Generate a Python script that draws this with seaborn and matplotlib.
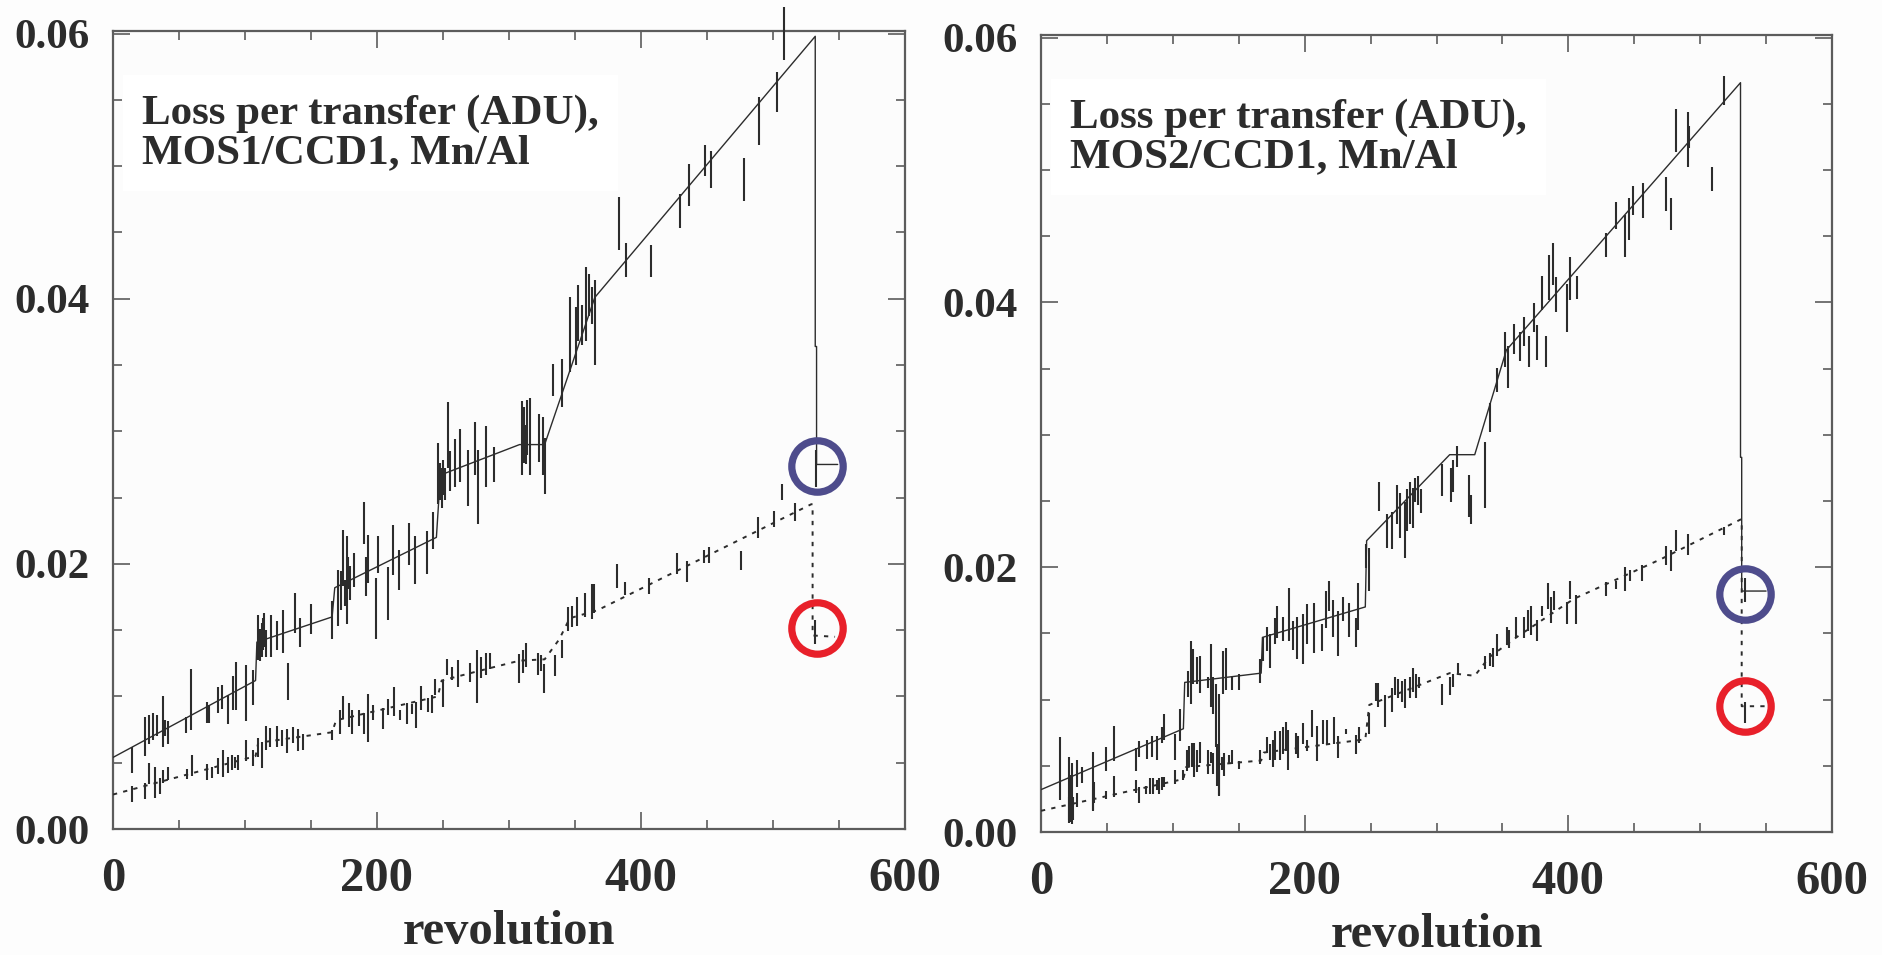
import matplotlib
matplotlib.use("Agg")
import matplotlib.pyplot as plt
import seaborn as sns
from matplotlib.ticker import MultipleLocator, FormatStrFormatter

sns.set_theme(style="ticks")
plt.rcParams["font.family"] = ["Liberation Serif", "DejaVu Serif"]
plt.rcParams["font.weight"] = "bold"

# ---------------- data: panel 1 (MOS1/CCD1) ----------------
title1 = "Loss per transfer (ADU),\nMOS1/CCD1, Mn/Al"
m1_up_rev = [0, 108, 109, 166, 168, 245, 248, 308, 327, 365, 532, 532, 533, 533, 549]
m1_up_val = [0.0054, 0.0112, 0.0141, 0.0160, 0.0182, 0.0220, 0.0267, 0.0290, 0.0290,
             0.0401, 0.0598, 0.0364, 0.0364, 0.0275, 0.0275]
m1_lo_rev = [0, 108, 110, 166, 169, 246, 249, 288, 308, 327, 338, 346, 367, 529, 530, 530, 547]
m1_lo_val = [0.0026, 0.0055, 0.0065, 0.0073, 0.0082, 0.0100, 0.0112, 0.0122, 0.0127, 0.0128,
             0.0143, 0.0159, 0.0165, 0.0245, 0.0245, 0.0146, 0.0145]

d1_up_rev = [14.1, 24.2, 27.5, 30.6, 33.1, 37.6, 39.4, 41.9, 55.3, 58.8, 71.0, 72.5, 79.8, 82.3,
             87.4, 90.7, 93.2, 100.8, 105.8, 110.1, 111.3, 112.6, 113.5, 114.4, 116.0, 119.4,
             124.0, 129.0, 132.3, 137.9, 141.7, 149.7, 165.7, 170.7, 172.5, 174.5, 175.8, 177.5,
             178.4, 179.5, 182.8, 190.2, 191.7, 193.4, 199.2, 201.0, 208.6, 212.4, 216.9, 224.2,
             228.8, 237.6, 242.2, 246.5, 247.6, 249.0, 250.3, 251.5, 253.8, 255.5, 259.2, 262.9,
             268.8, 274.3, 276.5, 282.5, 288.9, 309.8, 311.6, 312.7, 313.9, 316.2, 323.0, 325.8,
             327.6, 333.5, 340.3, 346.3, 350.8, 352.6, 355.0, 358.6, 360.8, 362.7, 365.4, 383.6,
             389.0, 407.3, 429.2, 436.0, 448.3, 453.3, 478.0, 489.3, 503.4, 508.0, 532.5]
d1_up_val = [0.00521, 0.00697, 0.00753, 0.00772, 0.00779, 0.00810, 0.00760, 0.00728, 0.00785,
             0.00980, 0.00879, 0.00867, 0.00974, 0.00999, 0.00904, 0.01024, 0.01081, 0.01024,
             0.01068, 0.01445, 0.01390, 0.01426, 0.01470, 0.01502, 0.01400, 0.01458, 0.01458,
             0.01489, 0.01112, 0.01628, 0.01483, 0.01584, 0.01577, 0.01741, 0.01800, 0.02043,
             0.01779, 0.01879, 0.01930, 0.01854, 0.01955, 0.02307, 0.01904, 0.02036, 0.01665,
             0.02074, 0.01779, 0.02106, 0.01955, 0.02150, 0.02030, 0.02087, 0.02250, 0.02684,
             0.02620, 0.02571, 0.02650, 0.02603, 0.02970, 0.02700, 0.02763, 0.02820, 0.02648,
             0.02867, 0.02579, 0.02809, 0.02751, 0.02947, 0.02970, 0.02900, 0.03028, 0.02959,
             0.02947, 0.02890, 0.02740, 0.03385, 0.03362, 0.03730, 0.03719, 0.03891, 0.03800,
             0.03960, 0.04030, 0.03950, 0.03822, 0.04570, 0.04294, 0.04283, 0.04663, 0.04858,
             0.05043, 0.04973, 0.04900, 0.05342, 0.05560, 0.05998, 0.02720]
d1_up_err = [0.0010, 0.0015, 0.0011, 0.0010, 0.0008, 0.0019, 0.0006, 0.0009, 0.0006, 0.0023,
             0.0008, 0.0007, 0.0010, 0.0009, 0.0011, 0.0013, 0.0018, 0.0021, 0.0013, 0.0017,
             0.0012, 0.0013, 0.0012, 0.0013, 0.0010, 0.0016, 0.0011, 0.0016, 0.0014, 0.0015,
             0.0011, 0.0011, 0.0014, 0.0021, 0.0015, 0.0021, 0.0010, 0.0033, 0.0012, 0.0013,
             0.0013, 0.0016, 0.0015, 0.0018, 0.0023, 0.0014, 0.0020, 0.0019, 0.0015, 0.0016,
             0.0018, 0.0016, 0.0014, 0.0023, 0.0014, 0.0015, 0.0013, 0.0012, 0.0025, 0.0015,
             0.0018, 0.0020, 0.0021, 0.0020, 0.0028, 0.0023, 0.0013, 0.0028, 0.0021, 0.0015,
             0.0021, 0.0029, 0.0018, 0.0022, 0.0021, 0.0012, 0.0018, 0.0028, 0.0022, 0.0021,
             0.0015, 0.0028, 0.0016, 0.0014, 0.0032, 0.0020, 0.0013, 0.0012, 0.0013, 0.0016,
             0.0012, 0.0014, 0.0016, 0.0018, 0.0015, 0.0020, 0.0014]

d1_lo_rev = [14.1, 24.2, 27.5, 31.8, 35.6, 38.1, 41.9, 55.8, 59.6, 71.5, 74.7, 79.8, 83.6, 87.4,
             89.9, 92.4, 94.9, 100.8, 106.3, 110.1, 112.6, 115.9, 118.9, 124.0, 127.8, 131.6,
             136.1, 140.4, 143.7, 165.7, 172.0, 174.5, 179.0, 180.8, 186.6, 190.2, 193.4, 197.2,
             204.8, 208.6, 212.9, 217.4, 222.5, 226.3, 229.5, 233.1, 238.9, 241.4, 243.9, 250.3,
             252.8, 256.6, 261.6, 270.4, 276.0, 278.5, 282.6, 285.6, 307.8, 310.3, 312.9, 321.7,
             324.0, 326.5, 334.8, 339.9, 345.0, 347.5, 351.3, 357.6, 362.6, 364.6, 382.1, 388.0,
             406.3, 427.6, 434.6, 447.4, 451.7, 475.6, 488.3, 500.9, 506.7, 516.3, 532.0]
d1_lo_val = [0.00263, 0.00288, 0.00420, 0.00351, 0.00326, 0.00395, 0.00420, 0.00414, 0.00477,
             0.00433, 0.00426, 0.00477, 0.00496, 0.00483, 0.00502, 0.00502, 0.00502, 0.00590,
             0.00533, 0.00615, 0.00558, 0.00684, 0.00691, 0.00697, 0.00684, 0.00665, 0.00709,
             0.00672, 0.00659, 0.00709, 0.00810, 0.00917, 0.00860, 0.00810, 0.00835, 0.00797,
             0.00835, 0.00879, 0.00835, 0.00923, 0.00961, 0.00860, 0.00873, 0.00904, 0.00860,
             0.00986, 0.00936, 0.00942, 0.01074, 0.01024, 0.01219, 0.01175, 0.01175, 0.01182,
             0.01151, 0.01219, 0.01245, 0.01264, 0.01213, 0.01264, 0.01314, 0.01245, 0.01250,
             0.01138, 0.01232, 0.01358, 0.01585, 0.01604, 0.01642, 0.01692, 0.01717, 0.01742,
             0.01911, 0.01817, 0.01836, 0.02005, 0.01943, 0.02056, 0.02069, 0.02025, 0.02276,
             0.02338, 0.02540, 0.02390, 0.01489]
d1_lo_err = [0.0006, 0.0006, 0.0008, 0.0012, 0.0006, 0.0005, 0.0005, 0.0004, 0.0008, 0.0006,
             0.0004, 0.0006, 0.0010, 0.0006, 0.0006, 0.0004, 0.0006, 0.0008, 0.0006, 0.0007,
             0.0010, 0.0009, 0.0007, 0.0008, 0.0006, 0.0009, 0.0006, 0.0008, 0.0006, 0.0004,
             0.0009, 0.0009, 0.0009, 0.0009, 0.0006, 0.0008, 0.0018, 0.0006, 0.0008, 0.0006,
             0.0011, 0.0004, 0.0008, 0.0004, 0.0010, 0.0009, 0.0005, 0.0007, 0.0006, 0.0010,
             0.0006, 0.0005, 0.0010, 0.0007, 0.0020, 0.0008, 0.0008, 0.0006, 0.0011, 0.0009,
             0.0009, 0.0008, 0.0006, 0.0011, 0.0008, 0.0007, 0.0009, 0.0008, 0.0011, 0.0009,
             0.0013, 0.0011, 0.0009, 0.0005, 0.0006, 0.0008, 0.0008, 0.0005, 0.0006, 0.0007,
             0.0008, 0.0006, 0.0006, 0.0007, 0.0009]

c1_rev = [533, 533]
c1_val = [0.0274, 0.0152]

# ---------------- data: panel 2 (MOS2/CCD1) ----------------
title2 = "Loss per transfer (ADU),\nMOS2/CCD1, Mn/Al"
m2_up_rev = [0, 108, 109, 167, 168, 246, 247, 310, 329, 353, 530.6, 530.6, 531.5, 531.5, 550]
m2_up_val = [0.0032, 0.0078, 0.0113, 0.0120, 0.0147, 0.0170, 0.0220, 0.0285, 0.0285, 0.0364,
             0.0566, 0.0283, 0.0283, 0.0182, 0.0182]
m2_lo_rev = [0, 108, 110, 167, 169, 246, 249, 310, 329, 340, 362, 404, 470, 530.6, 531.5, 531.5, 550]
m2_lo_val = [0.0016, 0.0040, 0.0049, 0.0054, 0.0060, 0.0070, 0.0096, 0.0120, 0.0118, 0.0132,
             0.0148, 0.0176, 0.0206, 0.0236, 0.0236, 0.0095, 0.0095]

d2_up_rev = [14.4, 21.5, 23.3, 27.6, 30.9, 39.2, 49.3, 55.4, 72.1, 74.6, 80.7, 84.0, 87.8, 91.6,
             93.3, 101.7, 105.5, 111.8, 113.6, 115.6, 118.1, 120.6, 127.0, 128.7, 130.8, 132.8,
             135.0, 137.8, 140.4, 144.7, 150.5, 166.2, 168.2, 171.2, 173.7, 177.5, 179.3, 183.4,
             188.4, 191.5, 194.0, 199.0, 201.6, 207.4, 213.0, 216.2, 218.8, 221.8, 225.1, 228.9,
             233.9, 239.0, 240.8, 246.6, 249.1, 256.7, 262.3, 266.0, 269.9, 272.4, 276.2, 277.9,
             280.0, 282.0, 283.8, 285.6, 288.4, 304.5, 310.8, 312.4, 315.9, 324.7, 326.3, 337.1,
             340.7, 345.7, 352.0, 354.6, 358.9, 363.5, 366.0, 370.5, 373.6, 376.6, 380.0, 383.2,
             385.0, 388.7, 390.8, 398.9, 401.4, 406.4, 428.7, 436.3, 443.2, 446.0, 448.9, 456.6,
             474.4, 478.0, 482.0, 490.5, 491.5, 508.6, 518.2, 534.0]
d2_up_val = [0.00479, 0.00329, 0.00291, 0.00441, 0.00429, 0.00385, 0.00554, 0.00667, 0.00548,
             0.00630, 0.00623, 0.00648, 0.00636, 0.00730, 0.00793, 0.00642, 0.00811, 0.01119,
             0.01206, 0.01250, 0.01219, 0.01188, 0.01131, 0.01181, 0.01031, 0.00880, 0.00661,
             0.01206, 0.01231, 0.01119, 0.01131, 0.01213, 0.01382, 0.01457, 0.01369, 0.01520,
             0.01589, 0.01532, 0.01645, 0.01482, 0.01463, 0.01457, 0.01570, 0.01539, 0.01470,
             0.01683, 0.01783, 0.01614, 0.01501, 0.01683, 0.01601, 0.01507, 0.01702, 0.02084,
             0.01984, 0.02536, 0.02272, 0.02279, 0.02474, 0.02393, 0.02279, 0.02434, 0.02487,
             0.02447, 0.02581, 0.02581, 0.02501, 0.02661, 0.02621, 0.02688, 0.02836, 0.02540,
             0.02434, 0.02696, 0.03130, 0.03415, 0.03643, 0.03510, 0.03724, 0.03670, 0.03778,
             0.03629, 0.03885, 0.03697, 0.04073, 0.03629, 0.04187, 0.04288, 0.04060, 0.03959,
             0.04180, 0.04113, 0.04436, 0.04657, 0.04500, 0.04630, 0.04770, 0.04770, 0.04820,
             0.04670, 0.05300, 0.05230, 0.05250, 0.04930, 0.05600, 0.01830]
d2_up_err = [0.0024, 0.0024, 0.0023, 0.0010, 0.0006, 0.0022, 0.0009, 0.0013, 0.0009, 0.0006,
             0.0007, 0.0008, 0.0009, 0.0006, 0.0010, 0.0010, 0.0012, 0.0010, 0.0024, 0.0013,
             0.0010, 0.0014, 0.0004, 0.0024, 0.0014, 0.0024, 0.0038, 0.0016, 0.0016, 0.0005,
             0.0006, 0.0009, 0.0009, 0.0009, 0.0013, 0.0010, 0.0012, 0.0009, 0.0020, 0.0011,
             0.0016, 0.0019, 0.0015, 0.0019, 0.0010, 0.0014, 0.0011, 0.0014, 0.0017, 0.0009,
             0.0013, 0.0011, 0.0018, 0.0009, 0.0016, 0.0011, 0.0013, 0.0014, 0.0015, 0.0017,
             0.0021, 0.0016, 0.0016, 0.0015, 0.0009, 0.0011, 0.0009, 0.0012, 0.0013, 0.0012,
             0.0008, 0.0016, 0.0011, 0.0025, 0.0011, 0.0009, 0.0013, 0.0016, 0.0011, 0.0011,
             0.0011, 0.0012, 0.0011, 0.0013, 0.0013, 0.0012, 0.0017, 0.0016, 0.0013, 0.0018,
             0.0016, 0.0009, 0.0009, 0.0010, 0.0016, 0.0016, 0.0011, 0.0013, 0.0013, 0.0012,
             0.0016, 0.0021, 0.0008, 0.0009, 0.0011, 0.0009]

d2_lo_rev = [22.8, 21.5, 24.5, 27.6, 39.2, 40.2, 49.3, 55.4, 72.1, 74.1, 79.7, 82.7, 85.2, 87.8,
             89.8, 91.6, 93.3, 101.7, 108.0, 110.5, 112.5, 114.3, 116.1, 118.6, 120.6, 127.0,
             128.7, 130.8, 133.3, 135.3, 137.1, 138.8, 142.9, 144.7, 150.5, 166.2, 171.2, 173.7,
             175.8, 177.5, 181.3, 183.9, 185.9, 187.7, 193.5, 195.2, 199.0, 201.6, 205.4, 209.7,
             213.7, 216.7, 222.3, 225.6, 231.4, 239.0, 241.5, 249.1, 254.2, 255.9, 261.0, 266.1,
             268.6, 271.1, 273.7, 276.2, 280.0, 282.0, 284.5, 287.1, 304.0, 310.3, 312.4, 316.6,
             336.9, 340.7, 343.2, 346.2, 353.3, 355.3, 360.4, 366.0, 369.7, 371.5, 376.6, 379.9,
             384.2, 386.7, 389.3, 399.3, 400.9, 405.9, 428.7, 436.3, 443.1, 446.4, 455.8, 473.8,
             477.7, 481.5, 490.4, 518.0, 534.0]
d2_lo_val = [0.00253, 0.00166, 0.00178, 0.00241, 0.00241, 0.00297, 0.00278, 0.00341, 0.00341,
             0.00278, 0.00316, 0.00347, 0.00347, 0.00354, 0.00347, 0.00366, 0.00379, 0.00416,
             0.00429, 0.00542, 0.00573, 0.00579, 0.00542, 0.00536, 0.00598, 0.00529, 0.00561,
             0.00517, 0.00504, 0.00435, 0.00517, 0.00510, 0.00548, 0.00567, 0.00504, 0.00567,
             0.00655, 0.00604, 0.00592, 0.00655, 0.00655, 0.00692, 0.00724, 0.00617, 0.00667,
             0.00642, 0.00742, 0.00655, 0.00818, 0.00667, 0.00755, 0.00755, 0.00767, 0.00642,
             0.00761, 0.00661, 0.00730, 0.00818, 0.01056, 0.01037, 0.00915, 0.00996, 0.01103,
             0.01083, 0.01063, 0.01043, 0.01089, 0.01150, 0.01103, 0.01130, 0.01036, 0.01103,
             0.01143, 0.01238, 0.01278, 0.01305, 0.01318, 0.01412, 0.01479, 0.01459, 0.01547,
             0.01547, 0.01600, 0.01600, 0.01520, 0.01668, 0.01782, 0.01675, 0.01748, 0.01654,
             0.01829, 0.01681, 0.01836, 0.01869, 0.01910, 0.01936, 0.01956, 0.02090, 0.02050,
             0.02200, 0.02170, 0.02270, 0.00900]
d2_lo_err = [0.0018, 0.0010, 0.0009, 0.0005, 0.0008, 0.0008, 0.0003, 0.0008, 0.0005, 0.0006,
             0.0003, 0.0006, 0.0006, 0.0004, 0.0006, 0.0005, 0.0004, 0.0005, 0.0004, 0.0008,
             0.0008, 0.0009, 0.0013, 0.0008, 0.0008, 0.0009, 0.0004, 0.0008, 0.0016, 0.0016,
             0.0005, 0.0009, 0.0003, 0.0005, 0.0003, 0.0005, 0.0006, 0.0006, 0.0010, 0.0011,
             0.0011, 0.0010, 0.0011, 0.0015, 0.0008, 0.0008, 0.0008, 0.0004, 0.0010, 0.0013,
             0.0009, 0.0009, 0.0010, 0.0008, 0.0002, 0.0007, 0.0006, 0.0008, 0.0007, 0.0009,
             0.0012, 0.0009, 0.0007, 0.0007, 0.0008, 0.0011, 0.0008, 0.0009, 0.0009, 0.0004,
             0.0008, 0.0007, 0.0005, 0.0004, 0.0005, 0.0005, 0.0007, 0.0008, 0.0007, 0.0007,
             0.0008, 0.0008, 0.0008, 0.0011, 0.0008, 0.0004, 0.0010, 0.0010, 0.0007, 0.0008,
             0.0007, 0.0011, 0.0005, 0.0003, 0.0009, 0.0004, 0.0006, 0.0007, 0.0008, 0.0008,
             0.0008, 0.0003, 0.0008]

c2_rev = [534, 534]
c2_val = [0.0180, 0.0095]

circle_colors = ["#4e4c8c", "#e8202a"]

x_ticks = [0, 200, 400, 600]
y_ticks = [0.00, 0.02, 0.04, 0.06]
x_label = "revolution"

INK = "#2c2c2c"
SPINE = "#5c5c5c"


def draw_panel(ax, mu_x, mu_y, ml_x, ml_y, du_x, du_y, du_e, dl_x, dl_y, dl_e,
               cx, cy, title):
    ax.set_facecolor("#fcfcfc")
    sns.lineplot(x=mu_x, y=mu_y, ax=ax, sort=False, estimator=None,
                 color=INK, linewidth=1.0, zorder=3)
    sns.lineplot(x=ml_x, y=ml_y, ax=ax, sort=False, estimator=None,
                 color=INK, linewidth=1.4, linestyle=(0, (2.2, 3.2)), zorder=3)
    for xs, ys, es in ((du_x, du_y, du_e), (dl_x, dl_y, dl_e)):
        eb = ax.errorbar(xs, ys, yerr=es, fmt="none", ecolor=INK,
                         elinewidth=1.5, capsize=0, zorder=4)
        for coll in eb.lines[2]:
            coll.set_clip_on(False)
    for x, y, c in zip(cx, cy, circle_colors):
        ax.plot([x], [y], marker="o", markersize=37, markerfacecolor="none",
                markeredgecolor=c, markeredgewidth=5.2, linestyle="none", zorder=6)

    ax.set_xlim(0, 600)
    ax.set_ylim(0, 0.0602)
    ax.set_xticks(x_ticks)
    ax.set_yticks(y_ticks)
    ax.xaxis.set_minor_locator(MultipleLocator(50))
    ax.yaxis.set_minor_locator(MultipleLocator(0.005))
    ax.yaxis.set_major_formatter(FormatStrFormatter("%.2f"))
    ax.tick_params(which="both", direction="in", top=True, right=True,
                   color=SPINE, labelcolor=INK, width=1.2)
    ax.tick_params(which="major", length=12)
    ax.tick_params(which="minor", length=6.5)
    ax.tick_params(axis="x", which="major", pad=20, labelsize=35)
    ax.tick_params(axis="y", which="major", pad=17, labelsize=31)
    for lab in ax.get_xticklabels() + ax.get_yticklabels():
        lab.set_fontweight("bold")
    for s in ax.spines.values():
        s.set_color(SPINE)
        s.set_linewidth(1.6)
        s.set_visible(True)
    ax.set_xlabel(x_label, fontsize=35, fontweight="bold", color=INK)
    ax.xaxis.set_label_coords(0.5, -0.102)
    ax.set_ylabel("")
    ax.text(0.037, 0.872, title, transform=ax.transAxes, fontsize=31,
            fontweight="bold", color=INK, ha="left", va="center", linespacing=1.05,
            zorder=2,
            bbox=dict(boxstyle="square,pad=0.45", facecolor="white", edgecolor="none"))


fig = plt.figure(figsize=(18.83, 9.55), dpi=100)
fig.patch.set_facecolor("#fdfdfd")
ax1 = fig.add_axes([113 / 1883, 1 - 829 / 955, 792 / 1883, 798 / 955])
ax2 = fig.add_axes([1041 / 1883, 1 - 832 / 955, 791 / 1883, 797 / 955])

draw_panel(ax1, m1_up_rev, m1_up_val, m1_lo_rev, m1_lo_val,
           d1_up_rev, d1_up_val, d1_up_err, d1_lo_rev, d1_lo_val, d1_lo_err,
           c1_rev, c1_val, title1)
draw_panel(ax2, m2_up_rev, m2_up_val, m2_lo_rev, m2_lo_val,
           d2_up_rev, d2_up_val, d2_up_err, d2_lo_rev, d2_lo_val, d2_lo_err,
           c2_rev, c2_val, title2)

fig.savefig("out.png", dpi=100, facecolor=fig.get_facecolor())
